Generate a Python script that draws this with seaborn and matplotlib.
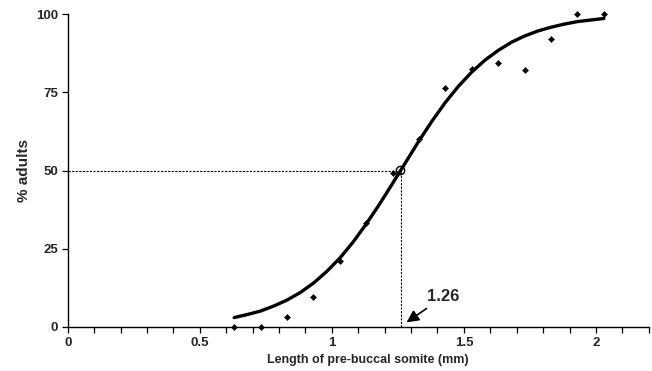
import numpy as np
import pandas as pd
import matplotlib
matplotlib.use('Agg')
import matplotlib.pyplot as plt
from matplotlib.ticker import MultipleLocator
import seaborn as sns

# observed points: length of pre-buccal somite (mm) vs % adults
somite_mm = [0.63, 0.73, 0.83, 0.93, 1.03, 1.13, 1.23, 1.33, 1.43, 1.53, 1.63, 1.73, 1.83, 1.93, 2.03]
pct_adults = [0, 0, 3.3, 9.5, 21.1, 33.1, 49.1, 60.0, 76.3, 82.5, 84.4, 82.0, 92.0, 100, 100]

# fitted curve
curve_mm = [0.63, 0.68, 0.73, 0.78, 0.83, 0.88, 0.93, 0.98, 1.03, 1.08, 1.13, 1.18, 1.23, 1.28, 1.33,
            1.38, 1.43, 1.48, 1.53, 1.58, 1.63, 1.68, 1.73, 1.78, 1.83, 1.88, 1.93, 1.98, 2.03]
curve_pct = [3.0, 4.0, 5.1, 6.7, 8.6, 11.0, 14.0, 17.7, 22.0, 27.1, 32.9, 39.2, 45.9, 52.7, 59.5,
             65.9, 71.8, 77.0, 81.5, 85.3, 88.4, 91.0, 93.0, 94.6, 95.8, 96.8, 97.6, 98.1, 98.6]

l50 = 1.26
yticks = [0, 25, 50, 75, 100]
xticks = [0, 0.5, 1, 1.5, 2]

sns.set_style("ticks")
plt.rcParams['font.family'] = ['Liberation Sans', 'DejaVu Sans']
plt.rcParams['font.weight'] = 'bold'

pts = pd.DataFrame({'mm': somite_mm, 'pct': pct_adults})
fit = pd.DataFrame({'mm': curve_mm, 'pct': curve_pct})

fig, ax = plt.subplots(figsize=(6.52, 3.71), dpi=100)
fig.subplots_adjust(left=0.104, right=0.995, bottom=0.1186, top=0.962)

# dotted guides to the 50% point
ax.plot([0, l50], [50, 50], color='black', lw=0.8, ls=(0, (2, 1.2)))
ax.plot([l50, l50], [0, 50], color='black', lw=0.8, ls=(0, (2, 1.2)))

sns.lineplot(data=fit, x='mm', y='pct', color='black', lw=2.4, ax=ax, zorder=3)
sns.scatterplot(data=pts, x='mm', y='pct', marker='D', s=10, color='black',
                edgecolor='black', linewidth=0.3, ax=ax, zorder=4, clip_on=False)
ax.scatter([l50], [50], s=36, facecolor='none', edgecolor='black', linewidth=1.0, zorder=5)

ax.annotate(f'{l50:.2f}', xy=(1.283, 1.5), xytext=(1.36, 9.6),
            fontsize=12, fontweight='bold', ha='left', va='center',
            arrowprops=dict(arrowstyle='-|>', color='black', lw=1.2,
                            mutation_scale=18, shrinkA=1, shrinkB=0))

ax.set_xlim(0, 2.2)
ax.set_ylim(0, 100)
ax.set_xticks(xticks)
ax.set_xticklabels(['0', '0.5', '1', '1.5', '2'])
ax.xaxis.set_minor_locator(MultipleLocator(0.1))
ax.set_yticks(yticks)
ax.tick_params(axis='both', which='both', direction='out', length=4, width=0.9,
               color='black', labelsize=9.5, pad=3)
for lab in ax.get_xticklabels() + ax.get_yticklabels():
    lab.set_fontweight('bold')

sns.despine(ax=ax)
for s in ['left', 'bottom']:
    ax.spines[s].set_linewidth(1.0)
    ax.spines[s].set_color('black')

ax.set_xlabel('Length of pre-buccal somite (mm)', fontsize=9, fontweight='bold')
ax.xaxis.set_label_coords(0.516, -0.085)
ax.set_ylabel('% adults', fontsize=11, fontweight='bold')
ax.yaxis.set_label_coords(-0.064, 0.5)

fig.savefig('out.png', dpi=100)
